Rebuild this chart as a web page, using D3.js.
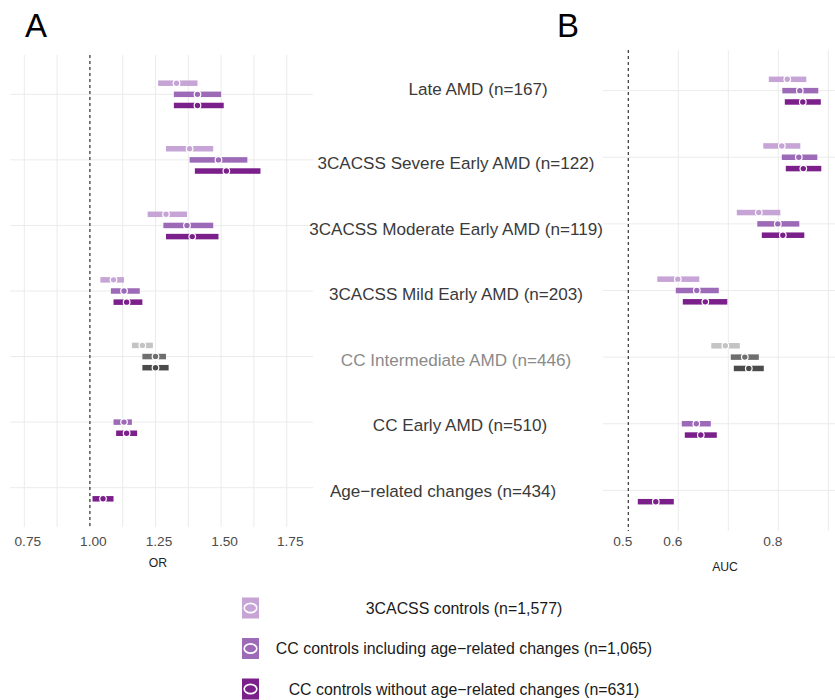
<!DOCTYPE html>
<html>
<head>
<meta charset="utf-8">
<script src="https://cdn.jsdelivr.net/npm/d3@7"></script>
<style>
  body { margin: 0; background: #fff; }
  svg { display: block; font-family: "Liberation Sans", Arial, sans-serif; }
</style>
</head>
<body>
<svg id="chart" width="835" height="700"></svg>
<script>
/* row categories (top to bottom) */
const rows = [
  'Late AMD (n=167)',
  '3CACSS Severe Early AMD (n=122)',
  '3CACSS Moderate Early AMD (n=119)',
  '3CACSS Mild Early AMD (n=203)',
  'CC Intermediate AMD (n=446)',
  'CC Early AMD (n=510)',
  'Age\u2212related changes (n=434)'
]

/* control groups (legend) */
const groups = [
  '3CACSS controls (n=1,577)',
  'CC controls including age\u2212related changes (n=1,065)',
  'CC controls without age\u2212related changes (n=631)'
]

/* odds ratios [lower, estimate, upper] per row, one array per control group */
const or3cacss = [[1.26, 1.33, 1.41], [1.29, 1.38, 1.47], [1.22, 1.29, 1.37], [1.04, 1.09, 1.13], [1.16, 1.20, 1.24], null, null]
const orCcIncl = [[1.32, 1.41, 1.50], [1.38, 1.49, 1.60], [1.28, 1.37, 1.47], [1.08, 1.13, 1.19], [1.20, 1.25, 1.29], [1.09, 1.13, 1.16], null]
const orCcExcl = [[1.32, 1.41, 1.51], [1.40, 1.52, 1.65], [1.29, 1.39, 1.49], [1.09, 1.14, 1.20], [1.20, 1.25, 1.30], [1.10, 1.14, 1.18], [1.01, 1.05, 1.09]]

/* AUC [lower, estimate, upper] per row */
const auc3cacss = [[0.781, 0.818, 0.856], [0.770, 0.807, 0.844], [0.717, 0.761, 0.804], [0.558, 0.599, 0.642], [0.666, 0.694, 0.723], null, null]
const aucCcIncl = [[0.808, 0.843, 0.880], [0.807, 0.841, 0.878], [0.758, 0.799, 0.842], [0.595, 0.637, 0.681], [0.705, 0.733, 0.761], [0.607, 0.636, 0.665], null]
const aucCcExcl = [[0.813, 0.849, 0.885], [0.815, 0.850, 0.886], [0.767, 0.809, 0.852], [0.609, 0.654, 0.698], [0.711, 0.741, 0.771], [0.613, 0.645, 0.677], [0.519, 0.555, 0.591]]

/* tick values and labels */
const orTicks = [0.75, 1.0, 1.25, 1.5, 1.75]
const orTickLabels = ['0.75', '1.00', '1.25', '1.50', '1.75']
const orGrid = [0.75, 0.875, 1.0, 1.125, 1.25, 1.375, 1.5, 1.625, 1.75]
const aucTicks = [0.5, 0.6, 0.8]
const aucTickLabels = ['0.5', '0.6', '0.8']
const aucGrid = [0.6, 0.7, 0.8, 0.9]

/* colours: purple palette, grey palette for the CC Intermediate row */
const purples = ['#c6a4d6', '#9c6ab6', '#7b1f8b']
const greys = ['#c4c4c4', '#6f6f6f', '#4b4b4b']
const greyRow = 'CC Intermediate AMD (n=446)'

const svg = d3.select('#chart')
const barH = 5.5

/* panel settings */
const panels = [
  {
    title: 'A', titleX: 25, axisTitle: 'OR', axisTitleX: 158, axisTitleY: 563,
    x: d3.scaleLinear().domain([0.75, 1.75]).range([24.3, 286.7]),
    left: 10, right: 313,
    y: d3.scalePoint().domain(rows).range([55, 527]).padding(0.6),
    top: 55, bottom: 527,
    ticks: orTicks, tickLabels: orTickLabels, grid: orGrid, ref: 1.0, tickDx: 3.5,
    series: [or3cacss, orCcIncl, orCcExcl]
  },
  {
    title: 'B', titleX: 557, axisTitle: 'AUC', axisTitleX: 725, axisTitleY: 567,
    x: d3.scaleLinear().domain([0.5, 0.8]).range([628.3, 778.3]),
    left: 603, right: 840,
    y: d3.scalePoint().domain(rows).range([50, 531]).padding(0.61),
    top: 50, bottom: 531,
    ticks: aucTicks, tickLabels: aucTickLabels, grid: aucGrid, ref: 0.5, tickDx: -5.5,
    series: [auc3cacss, aucCcIncl, aucCcExcl]
  }
]

/* fn: draw one forest panel */
function drawPanel(p) {
  const g = svg.append('g')

  /* vertical gridlines */
  g.selectAll('line.vgrid')
    .data(p.grid)
    .join('line')
    .attr('x1', d => p.x(d)).attr('x2', d => p.x(d))
    .attr('y1', p.top).attr('y2', p.bottom)
    .attr('stroke', '#ebebeb').attr('stroke-width', 1)

  /* horizontal gridlines, one per row */
  g.selectAll('line.hgrid')
    .data(rows)
    .join('line')
    .attr('x1', p.left).attr('x2', p.right)
    .attr('y1', d => p.y(d)).attr('y2', d => p.y(d))
    .attr('stroke', '#ebebeb').attr('stroke-width', 1)

  /* reference line */
  g.append('line')
    .attr('x1', p.x(p.ref)).attr('x2', p.x(p.ref))
    .attr('y1', p.top).attr('y2', p.bottom)
    .attr('stroke', '#333').attr('stroke-width', 1.2)
    .attr('stroke-dasharray', '3,3')

  /* bars and points */
  const off = p.y.step() * 0.17
  p.series.forEach((ser, gi) => {
    const marks = rows.map((r, ri) => ({ row: r, v: ser[ri] })).filter(d => d.v)
    const colour = d => (d.row === greyRow ? greys : purples)[gi]
    const yc = d => p.y(d.row) + (gi - 1) * off

    g.selectAll(null)
      .data(marks)
      .join('rect')
      .attr('x', d => p.x(d.v[0]))
      .attr('width', d => p.x(d.v[2]) - p.x(d.v[0]))
      .attr('y', d => yc(d) - barH / 2)
      .attr('height', barH)
      .attr('fill', colour)

    g.selectAll(null)
      .data(marks)
      .join('circle')
      .attr('cx', d => p.x(d.v[1]))
      .attr('cy', yc)
      .attr('r', 3.3)
      .attr('fill', colour)
      .attr('stroke', '#fff')
      .attr('stroke-width', 1.2)
  })

  /* tick labels */
  g.selectAll('text.tick')
    .data(p.ticks)
    .join('text')
    .attr('x', d => p.x(d) + p.tickDx)
    .attr('y', 541)
    .attr('text-anchor', 'middle')
    .attr('dominant-baseline', 'central')
    .attr('font-size', 13.7)
    .attr('fill', '#4d4d4d')
    .text((d, i) => p.tickLabels[i])

  /* axis title */
  g.append('text')
    .attr('x', p.axisTitleX).attr('y', p.axisTitleY)
    .attr('text-anchor', 'middle')
    .attr('dominant-baseline', 'central')
    .attr('font-size', 12.2)
    .attr('fill', '#222')
    .text(p.axisTitle)

  /* panel letter */
  svg.append('text')
    .attr('x', p.titleX).attr('y', 37)
    .attr('font-size', 33)
    .attr('fill', '#000')
    .text(p.title)
}

panels.forEach(drawPanel)

/* row labels in the middle column (small nudges where the original sits off-centre) */
const labelDx = { 'Late AMD (n=167)': 22, 'CC Early AMD (n=510)': 4, 'Age\u2212related changes (n=434)': -13 }
const labelDy = { 'Late AMD (n=167)': -9 }
svg.append('g')
  .selectAll('text')
  .data(rows)
  .join('text')
  .attr('x', d => 456 + (labelDx[d] || 0))
  .attr('y', d => panels[0].y(d) + 3.8 + (labelDy[d] || 0))
  .attr('text-anchor', 'middle')
  .attr('dominant-baseline', 'central')
  .attr('font-size', 17.1)
  .attr('fill', d => (d === greyRow ? '#8a8a8a' : '#3a3a3a'))
  .text(d => d)

/* legend */
const legendY = d3.scalePoint().domain(groups).range([608, 689])
const legend = svg.append('g')
  .selectAll('g')
  .data(groups)
  .join('g')
  .attr('transform', d => `translate(0, ${legendY(d)})`)

legend.append('rect')
  .attr('x', 242).attr('y', -10.5)
  .attr('width', 17).attr('height', 21)
  .attr('fill', (d, i) => purples[i])

legend.append('ellipse')
  .attr('cx', 250.5).attr('cy', 0)
  .attr('rx', 6.3).attr('ry', 4.6)
  .attr('fill', 'none')
  .attr('stroke', '#fff')
  .attr('stroke-width', 1.6)

legend.append('text')
  .attr('x', 464).attr('y', 0)
  .attr('text-anchor', 'middle')
  .attr('dominant-baseline', 'central')
  .attr('font-size', 15.9)
  .attr('fill', '#1a1a1a')
  .text(d => d)
</script>
</body>
</html>
